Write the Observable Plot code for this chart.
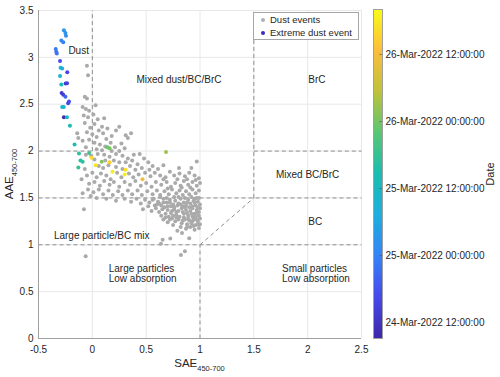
<!DOCTYPE html>
<html><head><meta charset="utf-8">
<script src="https://cdn.jsdelivr.net/npm/d3@7"></script>
<script src="https://cdn.jsdelivr.net/npm/@observablehq/plot@0.6"></script>
<style>
html,body{margin:0;padding:0;background:#fff;}
#wrap{position:relative;width:500px;height:377px;font-family:"Liberation Sans",Arial,sans-serif;color:#262626;}
#main{position:absolute;left:0;top:0;}
#cbar{position:absolute;left:366px;top:0;}
#legend{position:absolute;left:253px;top:12px;width:106px;height:28px;border:1px solid #a6a6a6;background:#fff;box-sizing:border-box;font-size:9.5px;}
#legend .row{position:absolute;left:0;height:12px;line-height:12px;white-space:nowrap;}
#legend .dot{position:absolute;left:7px;top:4px;width:4px;height:4px;border-radius:50%;}
#legend .lab{position:absolute;left:16px;top:0;}
</style></head><body>
<div id="wrap"><div id="main"></div><div id="cbar"></div>
<div id="legend">
  <div class="row" style="top:1px"><span class="dot" style="background:#b0b0b0"></span><span class="lab">Dust events</span></div>
  <div class="row" style="top:14px"><span class="dot" style="background:#3a2bb8"></span><span class="lab">Extreme dust event</span></div>
</div>
</div>
<script>
// ---- ticks ----
const xTicks = [-0.5, 0, 0.5, 1, 1.5, 2, 2.5];
const yTicks = [0, 0.5, 1, 1.5, 2, 2.5, 3, 3.5];
const cbarTicks = ["2022-03-24T12:00:00Z", "2022-03-25T00:00:00Z", "2022-03-25T12:00:00Z", "2022-03-26T00:00:00Z", "2022-03-26T12:00:00Z"];
const cbarLimits = ["2022-03-24T09:08:00Z", "2022-03-26T20:04:00Z"];

// ---- dust events (SAE, AAE) ----
const dustEvents = [
[-0.05,2.91],[-0.04,2.81],[-0.07,2.58],[-0.05,2.56],[-0.09,2.47],[-0.06,2.45],[-0.03,2.43],[0.03,2.49],[0.01,2.39],[-0.04,2.36],[-0.08,2.38],[0.05,2.34],[0.11,2.35],[-0.07,2.30],[0.02,2.29],[0.09,2.26],[-0.02,2.25],[0.06,2.22],[0.14,2.24],[0.22,2.22],[0.25,2.26],[-0.05,2.20],[0.00,2.18],[0.04,2.15],[0.10,2.19],[0.13,2.13],[0.18,2.16],[0.31,2.17],[0.36,2.19],[0.33,2.14],[-0.14,2.19],[-0.13,2.14],[-0.09,2.11],[-0.03,2.12],[0.02,2.09],[0.07,2.07],[0.12,2.05],[0.17,2.09],[0.21,2.04],[0.27,2.08],[-0.06,2.04],[0.04,2.02],[0.09,2.01],[0.25,2.00],[0.30,2.03],[0.18,2.00],
[-0.06,1.96],[-0.01,1.95],[0.05,1.97],[0.11,1.96],[0.16,1.94],[0.22,1.97],[0.28,1.95],[0.385,1.96],[0.44,1.97],[0.33,1.92],[0.02,1.91],[0.12,1.90],[0.20,1.90],[0.25,1.88],[0.31,1.88],[0.37,1.90],[0.48,1.92],[0.52,1.88],[-0.07,1.81],[0.06,1.84],[0.10,1.82],[0.15,1.85],[0.22,1.83],[0.28,1.81],[0.35,1.84],[0.42,1.86],[0.46,1.82],[0.56,1.84],[0.61,1.81],[0.66,1.85],[0.805,1.82],[0.92,1.82],[0.97,1.89],[0.40,1.80],[0.53,1.80],
[-0.05,1.74],[-0.10,1.70],[0.00,1.77],[0.04,1.72],[0.08,1.76],[0.13,1.74],[0.17,1.70],[0.23,1.77],[0.27,1.72],[0.34,1.76],[0.38,1.72],[0.43,1.75],[0.49,1.77],[0.54,1.73],[0.58,1.77],[0.63,1.74],[0.68,1.72],[0.72,1.78],[0.76,1.74],[0.81,1.76],[0.86,1.73],[0.90,1.77],[0.95,1.74],[0.99,1.71],
[-0.03,1.65],[0.02,1.67],[0.07,1.63],[0.11,1.68],[0.16,1.64],[0.20,1.67],[0.25,1.62],[0.30,1.67],[0.35,1.64],[0.40,1.68],[0.45,1.63],[0.50,1.66],[0.55,1.62],[0.59,1.67],[0.64,1.64],[0.69,1.67],[0.73,1.62],[0.77,1.66],[0.82,1.63],[0.85,1.68],[0.89,1.64],[0.93,1.67],[0.97,1.63],[1.00,1.66],[0.66,1.70],[0.79,1.70],[0.88,1.70],[0.96,1.69],
[-0.04,1.59],[-0.09,1.55],[0.01,1.56],[0.06,1.59],[0.10,1.54],[0.15,1.58],[0.19,1.53],[0.24,1.57],[0.28,1.53],[0.33,1.58],[0.37,1.54],[0.42,1.58],[0.46,1.53],[0.51,1.57],[0.56,1.54],[0.60,1.58],[0.63,1.53],[0.67,1.57],[0.71,1.54],[0.74,1.59],[0.78,1.55],[0.81,1.58],[0.84,1.53],[0.87,1.57],[0.90,1.54],[0.93,1.59],[0.96,1.55],[0.99,1.58],[-0.015,1.52],[0.70,1.60],[0.83,1.61],[0.91,1.61],
[0.04,1.50],[0.13,1.49],[0.22,1.47],[0.30,1.49],[0.36,1.46],[0.41,1.49],[0.45,1.44],[0.49,1.48],[0.53,1.45],[0.57,1.49],[0.61,1.46],[0.64,1.42],[0.66,1.49],[0.69,1.45],[0.72,1.48],[0.75,1.43],[0.77,1.47],[0.80,1.44],[0.82,1.49],[0.85,1.45],[0.87,1.42],[0.89,1.48],[0.91,1.44],[0.94,1.47],[0.96,1.42],[0.98,1.46],[1.00,1.43],[0.52,1.41],[0.58,1.42],[0.73,1.41],[0.84,1.41],[0.93,1.41],[0.99,1.50],
[0.47,1.38],[0.55,1.36],[0.59,1.39],[0.62,1.35],[0.65,1.38],[0.68,1.33],[0.70,1.37],[0.73,1.34],[0.76,1.38],[0.78,1.32],[0.80,1.36],[0.83,1.39],[0.85,1.33],[0.87,1.37],[0.89,1.31],[0.91,1.36],[0.93,1.39],[0.95,1.33],[0.97,1.37],[0.99,1.31],[1.00,1.39],[0.64,1.31],[0.71,1.30],[0.81,1.30],[0.93,1.30],[0.97,1.34],
[0.66,1.27],[0.70,1.24],[0.74,1.28],[0.77,1.25],[0.80,1.27],[0.83,1.23],[0.86,1.27],[0.88,1.22],[0.90,1.26],[0.92,1.23],[0.94,1.27],[0.96,1.21],[0.98,1.25],[1.00,1.28],[0.75,1.21],[0.82,1.19],[0.87,1.17],[0.91,1.19],[0.95,1.16],[0.99,1.18],[1.00,1.22],[0.79,1.15],
[0.62,1.44],[0.67,1.40],[0.72,1.45],[0.76,1.40],[0.79,1.42],[0.86,1.40],[0.90,1.40],[0.95,1.45],[0.98,1.40],[0.69,1.50],[0.76,1.51],[0.80,1.51],[0.86,1.50],[0.92,1.51],[0.97,1.50],[0.74,1.36],[0.78,1.35],[0.84,1.35],[0.88,1.34],[0.92,1.33],[0.96,1.30],[0.99,1.35],[0.75,1.31],[0.85,1.29],[0.89,1.28],[0.93,1.25],[0.97,1.27],[0.84,1.26],[0.78,1.29],[0.88,1.19],[0.94,1.20],[0.98,1.22],[0.68,1.29],[0.72,1.27],[0.82,1.43],[0.88,1.45],[0.95,1.49],[0.70,1.41],[0.66,1.45],[0.60,1.43],[0.56,1.48],[0.63,1.51],
[-0.078,1.38],[-0.062,0.877],[0.653,1.055],[0.724,1.066],[0.637,1.01],[0.823,0.89],[0.86,0.93],[0.90,1.07],[0.833,1.126]
];

// ---- extreme dust event ----
const extremeSAE = [-0.264,-0.25,-0.245,-0.288,-0.27,-0.34,-0.335,-0.33,-0.30,-0.295,-0.28,-0.233,-0.30,-0.248,-0.235,-0.288,-0.285,-0.27,-0.25,-0.217,-0.225,-0.28,-0.265,-0.264,-0.236,-0.208,-0.165,-0.124,-0.03,-0.11,-0.09,-0.13,0.14,0.16,-0.006,0.031,0.087,0.16,0.187,0.31,0.30,0.466,0.684];
const extremeAAE = [3.29,3.26,3.23,3.18,3.16,3.09,3.06,3.04,2.96,2.89,2.88,2.84,2.80,2.72,2.725,2.71,2.62,2.60,2.58,2.53,2.51,2.47,2.47,2.36,2.36,2.27,2.07,1.975,1.98,1.90,1.886,1.825,2.04,2.03,1.93,1.85,1.886,1.88,1.78,1.80,1.75,1.70,1.99];
const extremeTime = ["2022-03-25T03:00","2022-03-25T03:00","2022-03-25T02:00","2022-03-25T01:00","2022-03-25T00:00","2022-03-24T23:00","2022-03-24T22:00","2022-03-24T22:00","2022-03-24T17:00","2022-03-25T09:00","2022-03-25T07:00","2022-03-24T16:00","2022-03-25T11:00","2022-03-24T14:00","2022-03-24T15:00","2022-03-25T12:00","2022-03-24T13:00","2022-03-24T14:00","2022-03-24T20:00","2022-03-24T17:00","2022-03-24T16:00","2022-03-25T09:00","2022-03-25T10:00","2022-03-24T10:00","2022-03-25T13:00","2022-03-25T14:00","2022-03-25T15:00","2022-03-25T17:00","2022-03-25T19:00","2022-03-25T16:00","2022-03-25T17:00","2022-03-25T18:00","2022-03-25T23:00","2022-03-26T00:00","2022-03-26T16:00","2022-03-26T17:00","2022-03-26T01:00","2022-03-26T15:00","2022-03-26T18:00","2022-03-26T17:00","2022-03-26T19:00","2022-03-26T11:00","2022-03-26T03:00"];

// ---- region labels ----
const regionText = ["Dust","Mixed dust/BC/BrC","BrC","Mixed BC/BrC","BC","Large particle/BC mix","Large particles\nLow absorption","Small particles\nLow absorption"];
const regionX = [-0.127, 0.805, 2.086, 2.0, 2.07, 0.087, 0.152, 1.762];
const regionY = [3.07, 2.76, 2.76, 1.75, 1.25, 1.10, 0.693, 0.693];
const regionAnchor = ["middle","middle","middle","middle","middle","middle","start","start"];

// ---- dashed boundaries ----
const segX1 = [0, -0.5, -0.5, -0.5, 1, 1, 1.5, 1.5];
const segY1 = [2, 2, 1.5, 1, 0, 1, 1.5, 2];
const segX2 = [0, 0, 2.5, 2.5, 1, 1.5, 1.5, 2.5];
const segY2 = [3.5, 2, 1.5, 1, 1, 1.5, 3.5, 2];

const parula = ["#3e26a8","#4748eb","#3583f7","#1daede","#18bdb0","#59c673","#bfc23a","#fcbd3d","#f9fb14"];

const FONT = '"Liberation Sans", Arial, sans-serif';
const t0 = +new Date(cbarLimits[0]), t1 = +new Date(cbarLimits[1]);
const colorOpt = {type: "linear", domain: [t0, t1], interpolate: d3.piecewise(d3.interpolateRgb, parula)};

const extreme = extremeSAE.map((x, i) => ({x, y: extremeAAE[i], t: +new Date(extremeTime[i] + ":00Z")}));
const regions = regionText.map((text, i) => ({text, x: regionX[i], y: regionY[i], anchor: regionAnchor[i]}));
const segs = segX1.map((x1, i) => ({x1, y1: segY1[i], x2: segX2[i], y2: segY2[i]}));
const fmtNum = d => String(d);

const main = Plot.plot({
  width: 366, height: 377,
  marginLeft: 38, marginRight: 5, marginTop: 10, marginBottom: 39,
  style: {fontFamily: FONT, fontSize: "10px", color: "#262626", background: "transparent", overflow: "visible"},
  x: {domain: [-0.5, 2.5], label: null},
  y: {domain: [0, 3.5], label: null},
  color: colorOpt,
  marks: [
    Plot.gridX(xTicks, {stroke: "#e8e8e8", strokeOpacity: 1}),
    Plot.gridY(yTicks, {stroke: "#e8e8e8", strokeOpacity: 1}),
    Plot.link(segs, {x1: "x1", y1: "y1", x2: "x2", y2: "y2", stroke: "#8f8f8f", strokeDasharray: "4,3", strokeWidth: 1}),
    Plot.dot(dustEvents, {x: d => d[0], y: d => d[1], r: 2, fill: "#aaaaaa", stroke: null}),
    Plot.dot(extreme, {x: "x", y: "y", fill: "t", r: 2, stroke: null}),
    Plot.text(regions.filter(d => d.anchor === "middle"), {x: "x", y: "y", text: "text", textAnchor: "middle", fontSize: 10, fill: "#262626"}),
    Plot.text(regions.filter(d => d.anchor === "start"), {x: "x", y: "y", text: "text", textAnchor: "start", lineHeight: 1.0, fontSize: 10, fill: "#262626"}),
    Plot.ruleX([-0.5], {stroke: "#a0a0a0"}),
    Plot.ruleY([0], {stroke: "#a0a0a0"}),
    Plot.axisX(xTicks, {tickSize: 0, tickPadding: 7, tickFormat: fmtNum, label: null, fill: "#262626"}),
    Plot.axisY(yTicks, {tickSize: 0, tickPadding: 5, tickFormat: fmtNum, label: null, fill: "#262626"})
  ]
});
document.getElementById("main").appendChild(main);

const ms = d3.select(main);
const xl = ms.append("text").attr("x", 199.5).attr("y", 367).attr("text-anchor", "middle")
  .attr("font-size", 11.5).attr("fill", "#262626").attr("font-family", FONT);
xl.append("tspan").text("SAE");
xl.append("tspan").attr("font-size", 7.5).attr("dy", 3.5).text("450-700");
const yl = ms.append("text").attr("transform", "translate(9,174) rotate(-90)").attr("text-anchor", "middle")
  .attr("dy", "0.35em").attr("font-size", 11.5).attr("fill", "#262626").attr("font-family", FONT);
yl.append("tspan").text("AAE");
yl.append("tspan").attr("font-size", 7.5).attr("dy", 3.5).text("450-700");

// ---- colorbar ----
const nSlices = 200;
const slices = d3.range(nSlices).map(i => ({a: t0 + (t1 - t0) * i / nSlices, b: t0 + (t1 - t0) * (i + 1.3) / nSlices}));
const fmtDate = d3.utcFormat("%d-%b-%Y %H:%M:%S");
const cb = Plot.plot({
  width: 134, height: 377,
  marginLeft: 7, marginRight: 118, marginTop: 9, marginBottom: 39,
  style: {fontFamily: FONT, fontSize: "10px", color: "#262626", background: "transparent", overflow: "visible"},
  x: {domain: [0, 1], axis: null},
  y: {type: "linear", domain: [t0, t1], axis: null},
  color: colorOpt,
  marks: [
    Plot.rect(slices, {x1: 0, x2: 1, y1: "a", y2: d => Math.min(d.b, t1), fill: d => (d.a + d.b) / 2, shapeRendering: "crispEdges"}),
    Plot.ruleY(cbarTicks.map(t => +new Date(t)), {x1: 0.7, x2: 1, stroke: "#555", strokeOpacity: 0.6}),
    Plot.frame({stroke: "#a0a0a0"}),
    Plot.axisY(cbarTicks.map(t => +new Date(t)), {anchor: "right", tickSize: 0, tickPadding: 3, tickFormat: d => fmtDate(new Date(d)), label: null, fill: "#262626"})
  ]
});
document.getElementById("cbar").appendChild(cb);
d3.select(cb).append("text").attr("transform", "translate(124,174) rotate(-90)").attr("text-anchor", "middle")
  .attr("dy", "0.35em").attr("font-size", 11).attr("fill", "#262626").attr("font-family", FONT).text("Date");
</script></body></html>
